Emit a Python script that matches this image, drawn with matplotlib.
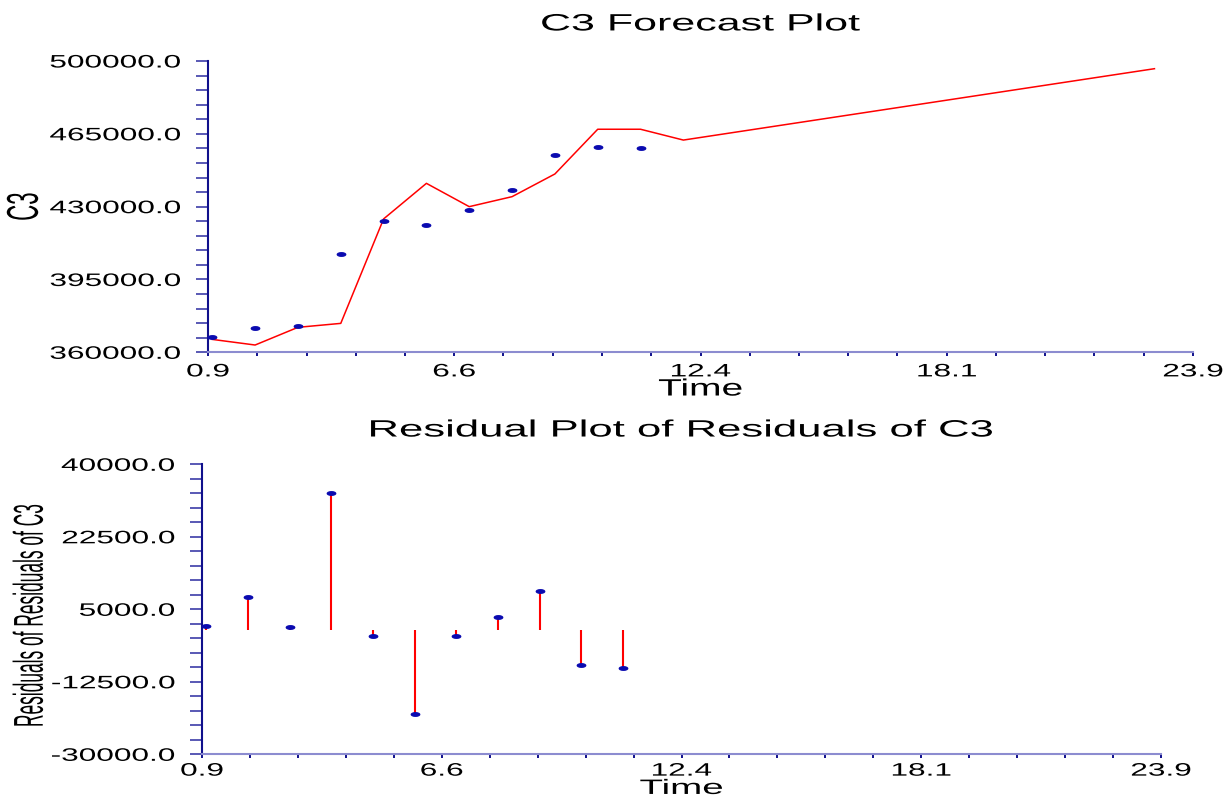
import numpy as np
import matplotlib
matplotlib.use("Agg")
import matplotlib.pyplot as plt
from matplotlib import patheffects
from matplotlib.path import Path
from matplotlib.transforms import Affine2D

# observed series and fitted/forecast values
time = [1, 2, 3, 4, 5, 6, 7, 8, 9, 10, 11]
c3 = [367200, 371500, 372800, 407200, 423000, 421300, 428500, 438000, 455000, 458800, 458300]

fit_time = [1, 2, 3, 4, 5, 6, 7, 8, 9, 10, 11, 12, 23]
fit_c3 = [366200, 363500, 372000, 373900, 424100, 441200, 430000, 434800, 445700,
          467200, 467200, 462000, 496300]

residuals = [900, 8000, 650, 33150, -1400, -20200, -1500, 3050, 9300, -8500, -9200]

x_ticks = [0.9, 6.65, 12.4, 18.15, 23.9]
x_labels = ["0.9", "6.6", "12.4", "18.1", "23.9"]
top_yticks = [360000, 395000, 430000, 465000, 500000]
bottom_yticks = [-30000, -12500, 5000, 22500, 40000]

navy = "#10108c"
dot_blue = "#0a0ab0"
red = "#ff0000"

plt.rcParams["font.family"] = ["Liberation Sans", "DejaVu Sans"]


class Stretch(patheffects.AbstractPathEffect):
    # the original picture is stretched sideways, text too
    def __init__(self, sx=1.75, anchor="center"):
        super().__init__()
        self.sx = sx
        self.anchor = anchor

    def draw_path(self, renderer, gc, tpath, affine, rgbFace=None):
        bb = tpath.get_extents(affine)
        if self.anchor == "right":
            x0 = bb.x1
        elif self.anchor == "left":
            x0 = bb.x0
        else:
            x0 = (bb.x0 + bb.x1) / 2
        tr = affine + Affine2D().translate(-x0, 0).scale(self.sx, 1).translate(x0, 0)
        renderer.draw_path(gc, tpath, tr, rgbFace)


ellipse = Path.unit_circle().transformed(Affine2D().scale(2.4, 1))


def style(ax, yticks, xpad=5):
    for s in ("top", "right"):
        ax.spines[s].set_visible(False)
    ax.spines["left"].set_color(navy)
    ax.spines["left"].set_linewidth(1.5)
    ax.spines["bottom"].set_color("#8c8cd0")
    ax.spines["bottom"].set_linewidth(1.5)
    ax.set_xlim(x_ticks[0], x_ticks[-1])
    ax.set_ylim(yticks[0], yticks[-1])
    ax.set_xticks(x_ticks, x_labels)
    ax.set_xticks(np.linspace(x_ticks[0], x_ticks[-1], 21), minor=True)
    ax.set_yticks(yticks, ["%.1f" % v for v in yticks])
    ax.set_yticks(np.linspace(yticks[0], yticks[-1], 21), minor=True)
    ax.tick_params(axis="y", which="both", direction="out", length=8.5, width=1.2,
                   color="#3c3ca8", pad=11, labelsize=13)
    ax.tick_params(axis="x", which="both", direction="out", length=3, width=1.4,
                   color=navy, pad=xpad, labelsize=13)
    for lab in ax.get_xticklabels():
        lab.set_path_effects([Stretch(1.75, "center")])
    for lab in ax.get_yticklabels():
        lab.set_path_effects([Stretch(1.75, "right")])


fig = plt.figure(figsize=(12.3, 8.01), dpi=100)

ax1 = fig.add_axes([208 / 1230, 1 - 352.3 / 801, 985 / 1230, 291.3 / 801])
ax1.plot(fit_time, fit_c3, color=red, lw=1.1, zorder=2)
ax1.plot(time, c3, ls="none", marker=ellipse, ms=6, color=dot_blue, zorder=3, clip_on=False)
style(ax1, top_yticks)
t = ax1.set_title("C3 Forecast Plot", fontsize=17, pad=22)
t.set_path_effects([Stretch(1.82, "center")])
xl = ax1.set_xlabel("Time", fontsize=17)
ax1.xaxis.set_label_coords(0.5, -0.09)
xl.set_path_effects([Stretch(1.65, "center")])
yl = ax1.set_ylabel("C3", fontsize=16)
ax1.yaxis.set_label_coords(-0.1675, 0.5)
yl.set_path_effects([Stretch(2.0, "right")])

ax2 = fig.add_axes([202 / 1230, 1 - 754.3 / 801, 959 / 1230, 290 / 801])
ax2.vlines(time, 0, residuals, color=red, lw=1.5, zorder=2)
ax2.plot(time, residuals, ls="none", marker=ellipse, ms=6, color=dot_blue, zorder=3, clip_on=False)
style(ax2, bottom_yticks, xpad=3)
t = ax2.set_title("Residual Plot of Residuals of C3", fontsize=17, pad=20)
t.set_path_effects([Stretch(1.85, "center")])
xl = ax2.set_xlabel("Time", fontsize=15)
ax2.xaxis.set_label_coords(0.5, -0.085)
xl.set_path_effects([Stretch(1.85, "center")])
yl = ax2.set_ylabel("Residuals of Residuals of C3", fontsize=12.5)
ax2.yaxis.set_label_coords(-0.1627, 0.48)
yl.set_path_effects([Stretch(2.4, "right")])

fig.savefig("out.png", dpi=100)
